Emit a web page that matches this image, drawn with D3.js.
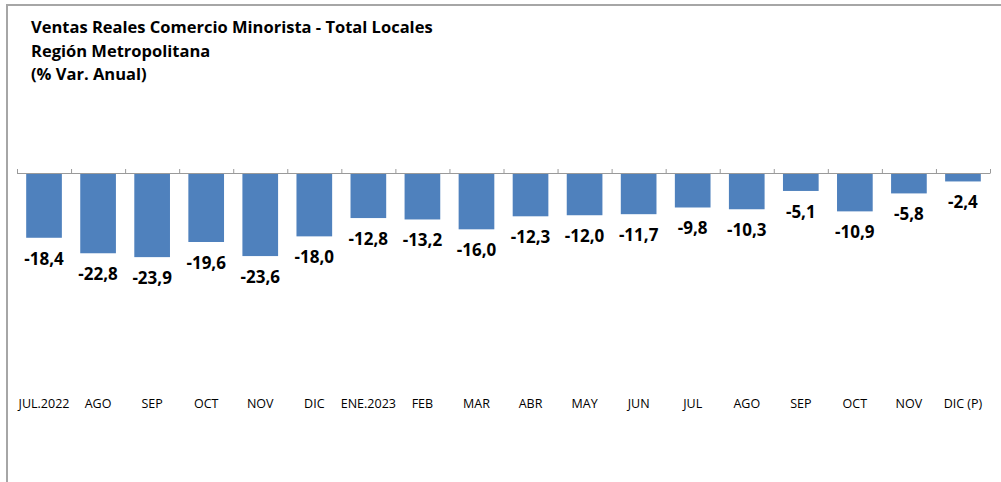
<!DOCTYPE html>
<html>
<head>
<meta charset="utf-8">
<script src="https://cdn.jsdelivr.net/npm/d3@7"></script>
<style>
  body { margin: 0; background: #fff; }
  svg { display: block; font-family: "Open Sans", "Noto Sans", sans-serif; }
</style>
</head>
<body>
<div id="chart"></div>
<script>
const months = ["JUL.2022", "AGO", "SEP", "OCT", "NOV", "DIC", "ENE.2023", "FEB", "MAR",
  "ABR", "MAY", "JUN", "JUL", "AGO ", "SEP ", "OCT ", "NOV ", "DIC (P)"];
const variation = [-18.4, -22.8, -23.9, -19.6, -23.6, -18.0, -12.8, -13.2, -16.0,
  -12.3, -12.0, -11.7, -9.8, -10.3, -5.1, -10.9, -5.8, -2.4];
const titleLines = ["Ventas Reales Comercio Minorista - Total Locales", "Región Metropolitana", "(% Var. Anual)"];

const width = 1001, height = 482;
const svg = d3.select("#chart").append("svg")
  .attr("width", width).attr("height", height);

// outer frame (left + top only visible)
svg.append("path")
  .attr("d", `M7,${height} V5 H${width}`)
  .attr("fill", "none").attr("stroke", "#a6a6a6").attr("stroke-width", 2);

svg.selectAll(".title").data(titleLines).join("text")
  .attr("class", "title")
  .attr("x", 31).attr("y", (d, i) => 33 + i * 23.5)
  .attr("font-size", 16.5).attr("font-weight", "bold").attr("fill", "#000")
  .text(d => d);

const x = d3.scaleBand().domain(months).range([17, 990]).paddingInner(0.34).paddingOuter(0.17);
const y = d3.scaleLinear().domain([0, -24]).range([173, 173 + 24 * 3.52]);

svg.selectAll(".bar").data(variation).join("rect")
  .attr("class", "bar")
  .attr("x", (d, i) => x(months[i]))
  .attr("y", y(0))
  .attr("width", x.bandwidth())
  .attr("height", d => y(d) - y(0))
  .attr("fill", "#4f81bd");

// axis line with boundary ticks
const step = x.step();
const x0 = x(months[0]) - x.paddingOuter() * step;
const axisG = svg.append("g").attr("stroke", "#9a9a9a").attr("stroke-width", 1);
axisG.append("line").attr("x1", x0).attr("x2", x0 + step * months.length)
  .attr("y1", y(0) + 0.5).attr("y2", y(0) + 0.5);
axisG.selectAll("line.tick").data(d3.range(months.length + 1)).join("line")
  .attr("class", "tick")
  .attr("x1", i => x0 + i * step + 0.5).attr("x2", i => x0 + i * step + 0.5)
  .attr("y1", y(0) - 4).attr("y2", y(0) + 0.5);

const fmt = d => d3.format(".1f")(d).replace(".", ",").replace("−", "-");
svg.selectAll(".val").data(variation).join("text")
  .attr("class", "val")
  .attr("x", (d, i) => x(months[i]) + x.bandwidth() / 2)
  .attr("y", d => y(d) + 21)
  .attr("dy", "0.35em")
  .attr("text-anchor", "middle")
  .attr("font-size", 17).attr("font-weight", "bold").attr("fill", "#000")
  .text(fmt);

svg.selectAll(".cat").data(months).join("text")
  .attr("class", "cat")
  .attr("x", d => x(d) + x.bandwidth() / 2)
  .attr("y", 404).attr("dy", "0.35em")
  .attr("text-anchor", "middle")
  .attr("font-size", 12.5).attr("fill", "#000")
  .text(d => d.trim());
</script>
</body>
</html>
